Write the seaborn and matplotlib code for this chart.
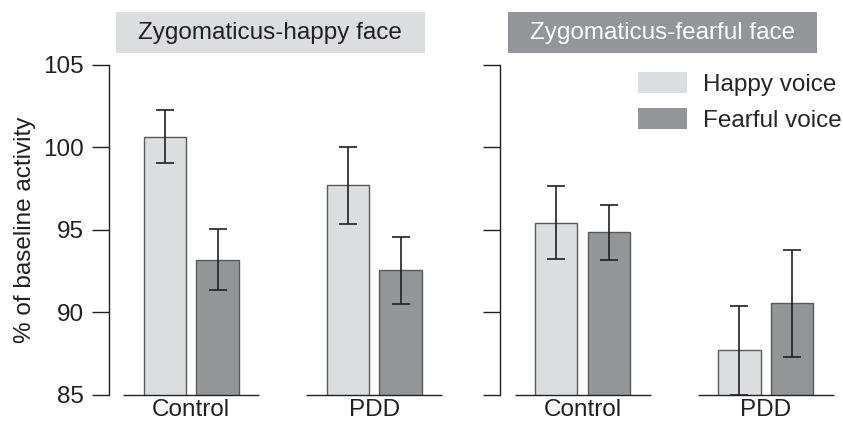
import pandas as pd
import matplotlib.pyplot as plt
import seaborn as sns
from matplotlib.patches import Patch, Rectangle

# data
faces = ["Zygomaticus-happy face", "Zygomaticus-fearful face"]
groups = ["Control", "PDD"]
voices = ["Happy voice", "Fearful voice"]
happy_face_means = [100.65, 93.2, 97.7, 92.55]      # Control-happy, Control-fearful, PDD-happy, PDD-fearful
happy_face_err = [1.6, 1.85, 2.35, 2.05]
fearful_face_means = [95.45, 94.85, 87.7, 90.55]
fearful_face_err = [2.2, 1.65, 2.7, 3.25]

light = "#dcdddf"
dark = "#939598"
ink = "#231f20"

rows = []
for face, means, errs in [(faces[0], happy_face_means, happy_face_err),
                          (faces[1], fearful_face_means, fearful_face_err)]:
    i = 0
    for g in groups:
        for v in voices:
            rows.append({"face": face, "group": g, "voice": v, "mean": means[i], "err": errs[i]})
            i += 1
df = pd.DataFrame(rows)

sns.set_style("white")
plt.rcParams["font.family"] = ["Liberation Sans", "DejaVu Sans"]
plt.rcParams["font.size"] = 17.5

fig = plt.figure(figsize=(8.43, 4.21), dpi=100)
ax1 = fig.add_axes([0.129, 0.0618, 0.4017, 0.784])
ax2 = fig.add_axes([0.5936, 0.0618, 0.4017, 0.784])

for ax, face, box_col, txt_col in [(ax1, faces[0], light, ink), (ax2, faces[1], dark, "white")]:
    sub = df[df["face"] == face]
    sns.barplot(data=sub, x="group", y="mean", hue="voice", order=groups, hue_order=voices,
                palette=[light, dark], width=0.577, gap=0.2, errorbar=None,
                edgecolor="#58595b", linewidth=1.0, legend=False, ax=ax)

    # error bars on top of the seaborn bars
    for cont, v in zip(ax.containers, voices):
        for bar, g in zip(cont, groups):
            r = sub[(sub["group"] == g) & (sub["voice"] == v)].iloc[0]
            cx = bar.get_x() + bar.get_width() / 2
            ax.errorbar(cx, r["mean"], yerr=r["err"], color=ink, lw=1.2,
                        capsize=6.5, capthick=1.2, zorder=5, clip_on=False)

    # short baseline under each group
    for i in range(len(groups)):
        ax.hlines(85, i - 0.37, i + 0.37, color=ink, lw=1.0, clip_on=False, zorder=6)

    ax.set_ylim(85, 105)
    ax.set_xlim(-0.45, 1.40)
    ax.set_yticks([85, 90, 95, 100, 105])
    ax.set_xlabel("")
    ax.set_ylabel("")
    for s in ["top", "right", "bottom"]:
        ax.spines[s].set_visible(False)
    ax.spines["left"].set_color(ink)
    ax.spines["left"].set_linewidth(1.0)
    ax.tick_params(axis="y", left=True, direction="out", length=12, width=1.0, color=ink,
                   pad=6, labelsize=17.5, labelcolor=ink)
    ax.tick_params(axis="x", bottom=False, length=0, pad=3, labelsize=17.5, labelcolor=ink)
    ax.set_facecolor("none")

    # title box above panel
    pos = ax.get_position()
    bx0 = pos.x0 + 0.0085
    fig.patches.append(Rectangle((bx0, 0.874), 0.3666, 0.0974, transform=fig.transFigure,
                                 facecolor=box_col, edgecolor="none"))
    fig.text(bx0 + 0.3666 / 2, 0.874 + 0.0974 / 2, face, ha="center", va="center",
             color=txt_col, fontsize=17.5)

ax2.tick_params(axis="y", labelleft=False)
ax1.set_ylabel("% of baseline activity", fontsize=17.5, color=ink, labelpad=5)

handles = [Patch(facecolor=light, edgecolor="none"), Patch(facecolor=dark, edgecolor="none")]
fig.legend(handles, voices, loc="upper left", bbox_to_anchor=(638 / 843, 1 - 72.5 / 421),
           bbox_transform=fig.transFigure, frameon=False, fontsize=17.5,
           handlelength=2.0, handleheight=0.95, handletextpad=0.66,
           labelspacing=0.5, borderpad=0, borderaxespad=0)

fig.savefig("out.png", dpi=100)
